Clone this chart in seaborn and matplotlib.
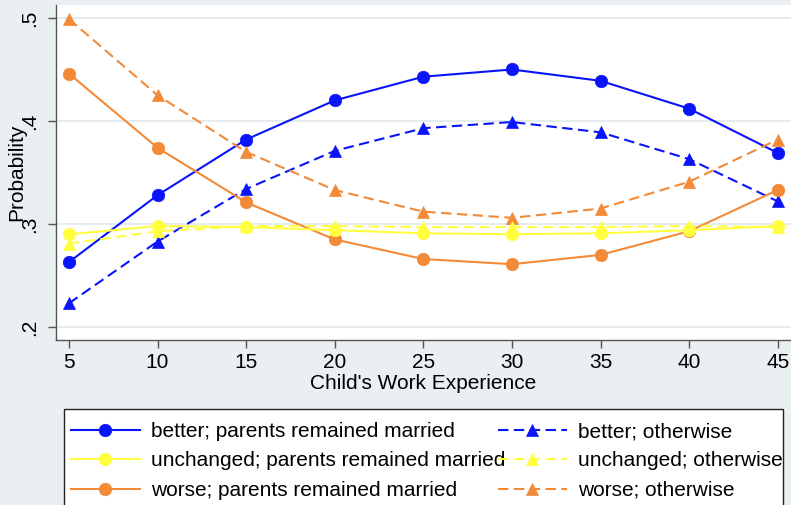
import matplotlib
matplotlib.use("Agg")
import matplotlib.pyplot as plt
from matplotlib.patches import Rectangle
import pandas as pd
import seaborn as sns

# Predicted probabilities by child's work experience
experience = [5, 10, 15, 20, 25, 30, 35, 40, 45]
better_married = [0.263, 0.328, 0.382, 0.420, 0.443, 0.450, 0.439, 0.412, 0.369]
better_other = [0.223, 0.283, 0.334, 0.371, 0.393, 0.399, 0.389, 0.363, 0.322]
unchanged_married = [0.290, 0.298, 0.297, 0.294, 0.291, 0.290, 0.291, 0.294, 0.298]
unchanged_other = [0.281, 0.293, 0.298, 0.298, 0.297, 0.297, 0.297, 0.298, 0.297]
worse_married = [0.446, 0.374, 0.321, 0.285, 0.266, 0.261, 0.270, 0.293, 0.333]
worse_other = [0.499, 0.425, 0.370, 0.333, 0.312, 0.306, 0.315, 0.341, 0.382]

series = {
    "better; parents remained married": better_married,
    "better; otherwise": better_other,
    "worse; parents remained married": worse_married,
    "worse; otherwise": worse_other,
    "unchanged; parents remained married": unchanged_married,
    "unchanged; otherwise": unchanged_other,
}
legend_order = [
    "better; parents remained married",
    "unchanged; parents remained married",
    "worse; parents remained married",
    "better; otherwise",
    "unchanged; otherwise",
    "worse; otherwise",
]

BLUE, YELLOW, ORANGE = "#0A14FA", "#FFFF40", "#F28A38"
palette = {
    "better; parents remained married": BLUE,
    "better; otherwise": BLUE,
    "unchanged; parents remained married": YELLOW,
    "unchanged; otherwise": YELLOW,
    "worse; parents remained married": ORANGE,
    "worse; otherwise": ORANGE,
}
markers = {k: ("o" if "married" in k else "^") for k in series}
dashes = {k: ("" if "married" in k else (5, 2.6)) for k in series}

rows = []
for name, vals in series.items():
    for x, y in zip(experience, vals):
        rows.append({"exp": x, "prob": y, "series": name})
df = pd.DataFrame(rows)

BG = "#EAEFF2"
plt.rcParams["font.family"] = ["Liberation Sans", "DejaVu Sans"]

fig = plt.figure(figsize=(7.91, 5.05), dpi=100, facecolor=BG)
ax = fig.add_axes([56 / 791, 1 - 340 / 505, 1 - 56 / 791, (340 - 5) / 505])
ax.set_facecolor("white")

sns.lineplot(
    data=df, x="exp", y="prob", hue="series", style="series",
    hue_order=list(series.keys()), style_order=list(series.keys()),
    palette=palette, markers=markers, dashes=dashes,
    linewidth=1.5, markersize=9, ax=ax, legend=False,
)
for line in ax.get_lines():
    line.set_markeredgecolor(line.get_color())
    line.set_markeredgewidth(0.5)

ax.set_xlim(4.27, 45.75)
ax.set_ylim(0.1874, 0.5126)
ax.set_xticks(experience)
ax.set_xticklabels([str(v) for v in experience], fontsize=15)
ax.set_yticks([0.2, 0.3, 0.4, 0.5])
ax.set_yticklabels([".2", ".3", ".4", ".5"], fontsize=15, rotation=90, va="center")
ax.grid(axis="y", color="#E3EAEE", linewidth=1.3)
ax.grid(axis="x", visible=False)
ax.set_axisbelow(True)

for side in ("top", "right"):
    ax.spines[side].set_visible(False)
for side in ("left", "bottom"):
    ax.spines[side].set_color("#555555")
    ax.spines[side].set_linewidth(1.0)
ax.tick_params(axis="both", length=6, width=1, color="#555555", pad=3)
ax.tick_params(axis="y", pad=6)

ax.set_xlabel("Child's Work Experience", fontsize=15, labelpad=2)
ax.set_ylabel("Probability", fontsize=15, labelpad=-4)

# Legend frame running off the bottom of the figure
fig.patches.append(Rectangle((64 / 791, -0.05), (783 - 64) / 791, (505 - 409) / 505 + 0.05,
                             transform=fig.transFigure, facecolor="white",
                             edgecolor="#222222", linewidth=1.0, zorder=0))

handle_map = {}
for line, name in zip(ax.get_lines(), series.keys()):
    handle_map[name] = line
handles = [handle_map[n] for n in legend_order]
leg = fig.legend(
    handles, legend_order, ncol=2, loc="upper left",
    bbox_to_anchor=(71 / 791, 1 - 422 / 505), frameon=False,
    fontsize=15, handlelength=3.3, handletextpad=0.55,
    columnspacing=-0.37, labelspacing=0.5, borderaxespad=0, borderpad=0,
)

fig.savefig("out.png", dpi=100, facecolor=BG)
